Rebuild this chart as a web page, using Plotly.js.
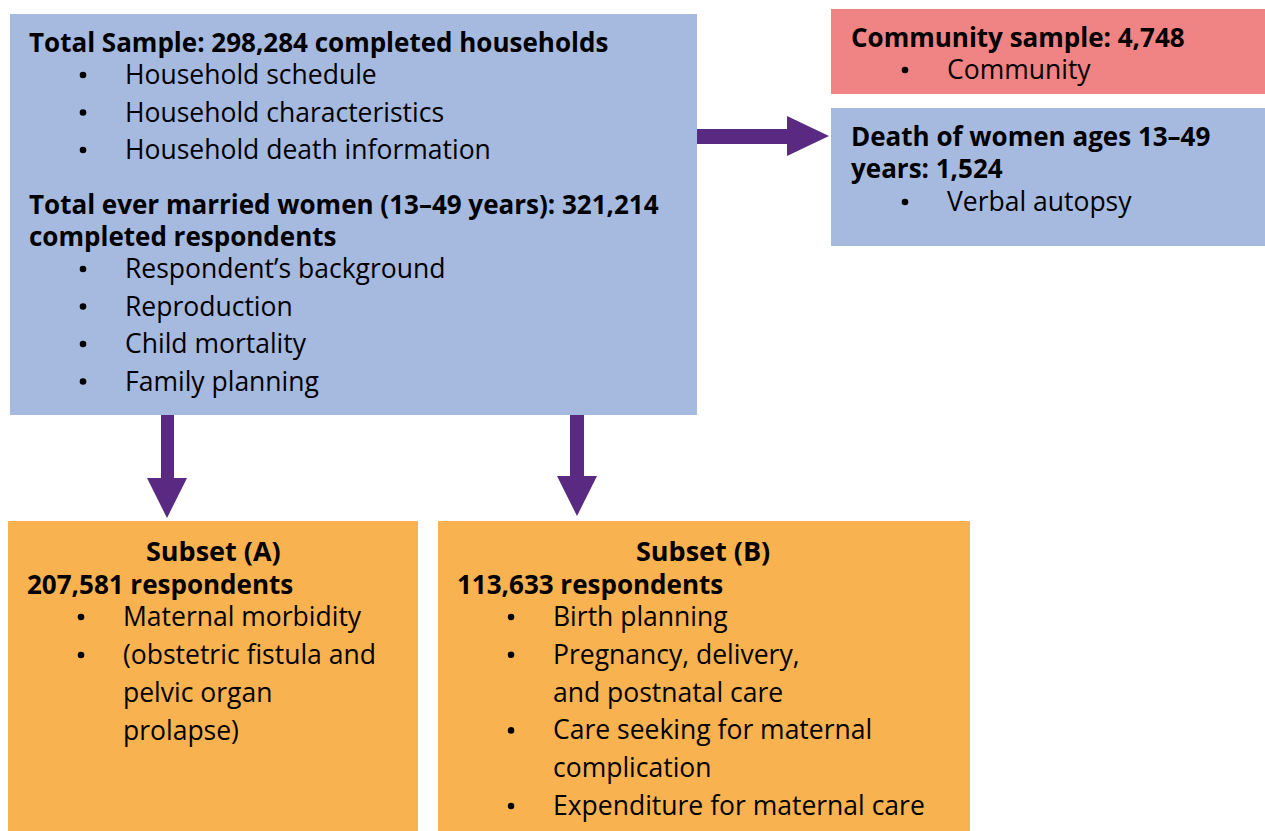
<!DOCTYPE html>
<html>
<head>
<meta charset="utf-8">
<script src="https://cdn.plot.ly/plotly-3.0.1.min.js"></script>
<style>html,body{margin:0;padding:0;background:#fff;}#chart{width:1265px;height:831px;}</style>
</head>
<body>
<div id="chart"></div>
<script>
// ---- Content (text) ----
const mainHeading1 = "Total Sample: 298,284 completed households";
const mainItems1 = ["Household schedule", "Household characteristics", "Household death information"];
const mainHeading2 = ["Total ever married women (13–49 years): 321,214", "completed respondents"];
const mainItems2 = ["Respondent’s background", "Reproduction", "Child mortality", "Family planning"];

const communityHeading = ["Community sample: 4,748"];
const communityItems = ["Community"];

const deathHeading = ["Death of women ages 13–49", "years: 1,524"];
const deathItems = ["Verbal autopsy"];

const subsetATitle = "Subset (A)";
const subsetAHeading = "207,581 respondents";
const subsetALines = ["Maternal morbidity", "(obstetric fistula and", "pelvic organ", "prolapse)"];
const subsetABullets = [true, true, false, false];

const subsetBTitle = "Subset (B)";
const subsetBHeading = "113,633 respondents";
const subsetBLines = ["Birth planning", "Pregnancy, delivery,", "and postnatal care", "Care seeking for maternal", "complication", "Expenditure for maternal care"];
const subsetBBullets = [true, true, false, true, false, true];

// ---- Styling ----
const BLUE = "#A6B9DF", PINK = "#F08383", ORANGE = "#F8B24F", PURPLE = "#5A2A82";
const FONT = "'Open Sans', 'DejaVu Sans', sans-serif";
const BODY = 26.5, HEAD = 26;

const shapes = [];
const annotations = [];

function rect(x0, y0, x1, y1, color) {
  shapes.push({type: "rect", xref: "x", yref: "y", x0, y0, x1, y1, fillcolor: color, line: {width: 0}, layer: "below"});
}
function poly(pts, color) {
  const d = "M " + pts.map(p => p[0] + "," + p[1]).join(" L ") + " Z";
  shapes.push({type: "path", xref: "x", yref: "y", path: d, fillcolor: color, line: {width: 0}});
}
function text(x, y, s, bold, size, anchor) {
  annotations.push({
    xref: "x", yref: "y", x: x - 2, y, text: bold ? "<b>" + s + "</b>" : s, showarrow: false,
    xanchor: anchor || "left", yanchor: "middle", align: "left", borderpad: 0,
    font: {family: FONT, size: size, color: "#000"}
  });
}
function bullet(x, y) {
  shapes.push({type: "circle", xref: "x", yref: "y", x0: x - 3.3, x1: x + 3.3, y0: y - 3.3 + 1, y1: y + 3.3 + 1,
    fillcolor: "#000", line: {width: 0}});
}

// Boxes
rect(10, 14, 697, 415, BLUE);
rect(831, 9, 1265, 94, PINK);
rect(831, 108, 1265, 246, BLUE);
rect(8, 521, 418, 831, ORANGE);
rect(438, 521, 970, 831, ORANGE);

// Arrows
poly([[697,129],[787,129],[787,116],[829,136],[787,156],[787,144],[697,144]], PURPLE);
poly([[161,415],[174,415],[174,478],[187,478],[167,518],[147,478],[161,478]], PURPLE);
poly([[570,415],[584,415],[584,476],[597,476],[577,516],[557,476],[570,476]], PURPLE);

// Main box text
text(30, 42, mainHeading1, true, HEAD);
mainItems1.forEach((s, i) => { const y = 74 + i * 37.5; bullet(83, y); text(126, y, s, false, BODY); });
mainHeading2.forEach((s, i) => text(30, 204 + i * 32, s, true, HEAD));
mainItems2.forEach((s, i) => { const y = 268 + i * 37.5; bullet(83, y); text(126, y, s, false, BODY); });

// Community box
communityHeading.forEach((s, i) => text(852, 37 + i * 32, s, true, HEAD));
communityItems.forEach((s, i) => { const y = 69 + i * 37.5; bullet(905, y); text(948, y, s, false, BODY); });

// Death box
deathHeading.forEach((s, i) => text(852, 136 + i * 32, s, true, HEAD));
deathItems.forEach((s, i) => { const y = 201 + i * 37.5; bullet(905, y); text(948, y, s, false, BODY); });

// Subset A
text(215, 550, subsetATitle, true, 27, "center");
text(28, 584, subsetAHeading, true, HEAD);
subsetALines.forEach((s, i) => { const y = 616 + i * 38; if (subsetABullets[i]) bullet(81, y); text(124, y, s, false, BODY); });

// Subset B
text(705, 550, subsetBTitle, true, 27, "center");
text(458, 584, subsetBHeading, true, HEAD);
subsetBLines.forEach((s, i) => { const y = 616 + i * 37.8; if (subsetBBullets[i]) bullet(511, y); text(554, y, s, false, BODY); });

const layout = {
  width: 1265, height: 831,
  margin: {l: 0, r: 0, t: 0, b: 0},
  paper_bgcolor: "#fff", plot_bgcolor: "#fff",
  xaxis: {range: [0, 1265], visible: false, fixedrange: true},
  yaxis: {range: [831, 0], visible: false, fixedrange: true},
  showlegend: false,
  shapes, annotations
};
Plotly.newPlot("chart", [], layout, {displayModeBar: false, staticPlot: true});
</script>
</body>
</html>
